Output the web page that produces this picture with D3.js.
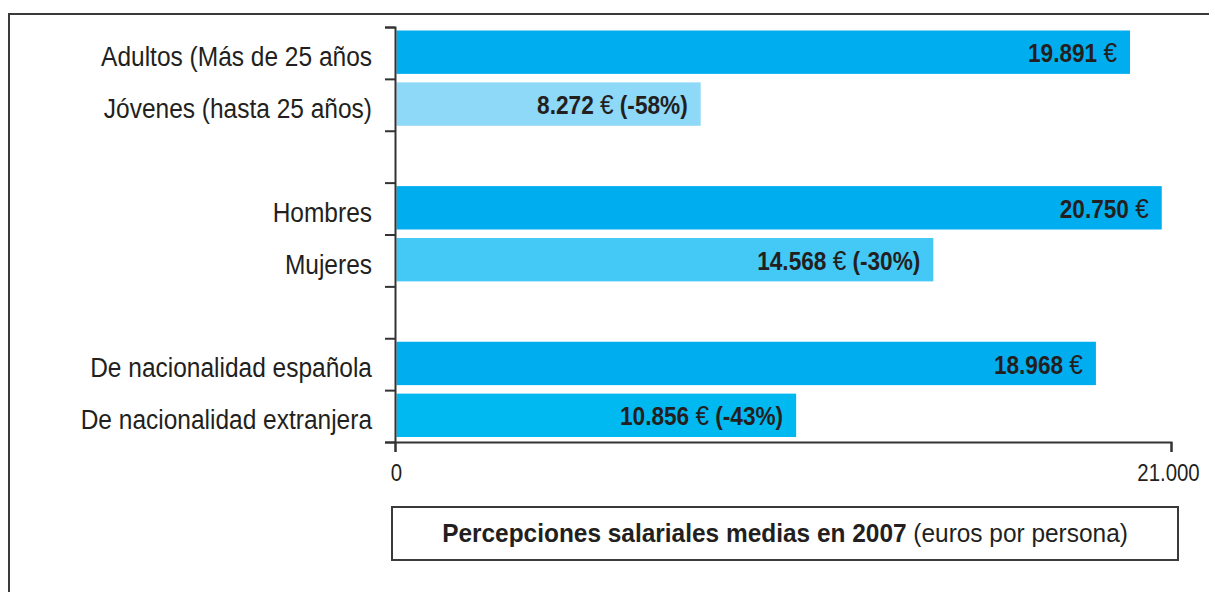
<!DOCTYPE html>
<html lang="es">
  <head>
    <meta charset="utf-8">
    <title>Percepciones salariales medias en 2007</title>
    <script src="https://d3js.org/d3.v7.min.js"></script>
    <style>
      body { margin: 0; background: #fff; }
      text { font-family: "Liberation Sans Narrow", "Liberation Sans", Arial, sans-serif; fill: #231f20; }
    </style>
  </head>
  <body>
    <script type="text/javascript">
      var w = 1209;
      var h = 592;

      // data
      var categories = ["Adultos (Más de 25 años", "Jóvenes (hasta 25 años)",
                        "Hombres", "Mujeres",
                        "De nacionalidad española", "De nacionalidad extranjera"];
      var groups = [0, 0, 1, 1, 2, 2];
      var values = [19891, 8272, 20750, 14568, 18968, 10856];
      var diffs = ["", "(-58%)", "", "(-30%)", "", "(-43%)"];
      var xTicks = [0, 21000];
      var colors = ["#00aeef", "#8ed8f8", "#00aeef", "#44c8f5", "#00adee", "#00b9f1"];

      var es = d3.formatLocale({decimal: ",", thousands: ".", grouping: [3], currency: ["", " €"]});
      var fmt = es.format(",d");

      var dataset = categories.map(function(c, i) {
        return {cat: c, slot: i + groups[i], value: values[i], diff: diffs[i], color: colors[i]};
      });
      var nSlots = d3.max(dataset, d => d.slot) + 1;

      var xScale = d3.scaleLinear()
          .domain([0, 21000])
          .range([395, 1171]);
      var yScale = d3.scaleLinear()
          .domain([0, nSlots])
          .range([27, 442]);
      var step = yScale(1) - yScale(0);
      var pad = 3.5;

      // condensed look: squeeze text horizontally around its anchor
      function squeeze(sx, fx, fy) {
        return function(d, i) {
          return "translate(" + fx(d, i) + "," + fy(d, i) + ") scale(" + sx + ",1)";
        };
      }

      var svg = d3.select("body")
          .append("svg")
          .attr("width", w)
          .attr("height", h);

      // outer frame
      svg.append("rect")
          .attr("x", 9).attr("y", 14)
          .attr("width", w + 20).attr("height", h + 20)
          .attr("fill", "none")
          .attr("stroke", "#3a3a3a")
          .attr("stroke-width", 2);

      // bars
      svg.selectAll("rect.bar")
          .data(dataset)
          .enter()
          .append("rect")
          .attr("class", "bar")
          .attr("x", xScale(0) + 1.5)
          .attr("y", d => yScale(d.slot) + pad)
          .attr("width", d => xScale(d.value) - xScale(0) - 1.5)
          .attr("height", step - 2 * pad - 1.5)
          .attr("fill", d => d.color);

      // value labels
      var lab = svg.selectAll("text.val")
          .data(dataset)
          .enter()
          .append("text")
          .attr("class", "val")
          .attr("transform", squeeze(0.87, d => xScale(d.value) - 13, d => yScale(d.slot + 0.5)))
          .attr("dy", "0.36em")
          .attr("text-anchor", "end")
          .style("font-size", "26px");
      lab.append("tspan").style("font-weight", "bold").text(d => fmt(d.value) + " ");
      lab.append("tspan").style("font-weight", "normal").style("font-size", "28px").text("€");
      lab.append("tspan").style("font-weight", "bold").text(d => d.diff ? " " + d.diff : "");

      // category labels
      svg.selectAll("text.cat")
          .data(dataset)
          .enter()
          .append("text")
          .attr("class", "cat")
          .attr("transform", squeeze(0.875, () => 372, d => yScale(d.slot + 0.5) + 3))
          .attr("dy", "0.36em")
          .attr("text-anchor", "end")
          .style("font-size", "28px")
          .text(d => d.cat);

      // axes
      var yAxis = d3.axisLeft(yScale)
          .tickValues(d3.range(nSlots + 1))
          .tickFormat("")
          .tickSizeOuter(0)
          .tickSize(10);
      var xAxis = d3.axisBottom(xScale)
          .tickValues(xTicks)
          .tickFormat(fmt)
          .tickSizeOuter(0)
          .tickSize(10);

      var gy = svg.append("g")
          .attr("class", "yAxis")
          .attr("transform", "translate(" + xScale(0) + ",0)")
          .call(yAxis);
      var gx = svg.append("g")
          .attr("class", "xAxis")
          .attr("transform", "translate(0," + yScale(nSlots) + ")")
          .call(xAxis);
      [gx, gy].forEach(function(g) {
        g.selectAll("path, line").attr("stroke", "#333").attr("stroke-width", 2);
      });
      gx.selectAll("text")
          .attr("y", null)
          .attr("dy", null)
          .attr("transform", (d, i) => "translate(" + (i ? -3 : 1) + ",39) scale(0.85,1)")
          .style("font-size", "24px")
          .attr("fill", "#231f20");

      // caption box
      svg.append("rect")
          .attr("x", 392).attr("y", 507)
          .attr("width", 786).attr("height", 53)
          .attr("fill", "none")
          .attr("stroke", "#3a3a3a")
          .attr("stroke-width", 2);
      var cap = svg.append("text")
          .attr("transform", "translate(785,542) scale(0.94,1)")
          .attr("text-anchor", "middle")
          .style("font-size", "26px");
      cap.append("tspan").style("font-weight", "bold").text("Percepciones salariales medias en 2007");
      cap.append("tspan").text(" (euros por persona)");
    </script>
  </body>
</html>
